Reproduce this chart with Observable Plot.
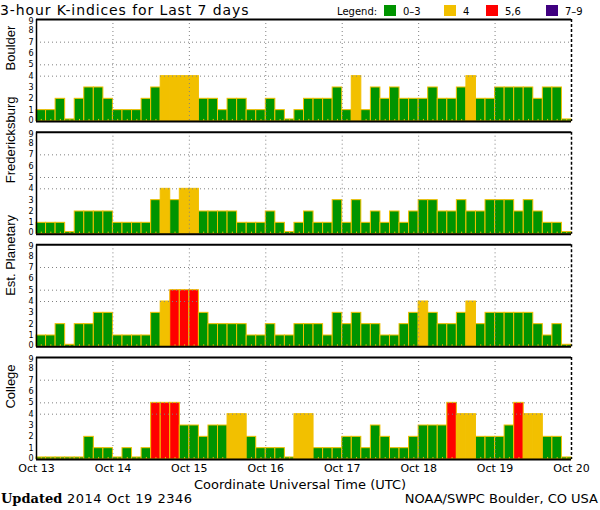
<!DOCTYPE html>
<html>
<head>
<meta charset="utf-8">
<script src="https://cdn.jsdelivr.net/npm/d3@7"></script>
<script src="https://cdn.jsdelivr.net/npm/@observablehq/plot@0.6"></script>
<style>
  html, body { margin: 0; padding: 0; background: #fff; }
  body { width: 600px; height: 510px; position: relative; overflow: hidden; font-family: "DejaVu Sans", sans-serif; color: #000; }
  .abs { position: absolute; white-space: nowrap; line-height: 1; }
  .sw { position: absolute; width: 12px; height: 11px; top: 5px; }
  #chart svg { display: block; overflow: visible; }
</style>
</head>
<body>
<div class="abs" id="title" style="left:0; top:3px; font-size:14px; letter-spacing:0.9px;">3-hour K-indices for Last 7 days</div>
<div id="legend"></div>
<div class="abs" id="chart" style="left:0; top:18px;"></div>
<div class="abs" id="xlabel" style="left:0; width:600px; text-align:center; top:478px; font-size:13px;">Coordinate Universal Time (UTC)</div>
<div class="abs" style="left:1px; top:492px; font-size:13px;"><span style="font-family:'DejaVu Serif', serif; font-weight:bold;">Updated</span><span style="letter-spacing:0.5px;"> 2014 Oct 19 2346</span></div>
<div class="abs" style="right:2px; top:492px; font-size:13px;">NOAA/SWPC Boulder, CO USA</div>
<script>
// ---- data ----
const stations = ["Boulder", "Fredericksburg", "Est. Planetary", "College"];
const dayLabels = ["Oct 13", "Oct 14", "Oct 15", "Oct 16", "Oct 17", "Oct 18", "Oct 19", "Oct 20"];
const yTicks = [0, 1, 2, 3, 4, 5, 6, 7, 8, 9];
const gridLevels = [4, 5, 7];
const legendLabels = ["0\u20133", "4", "5,6", "7\u20139"];

const boulder = [1,1,2,0,2,3,3,2, 1,1,1,2,3,4,4,4, 4,2,2,1,2,2,1,1, 2,1,0,1,2,2,2,3, 1,4,1,3,2,3,2,2, 2,3,2,2,3,4,2,2, 3,3,3,3,2,3,3,0];
const fredericksburg = [1,1,1,0,2,2,2,2, 1,1,1,1,3,4,3,4, 4,2,2,2,2,1,1,1, 2,1,0,1,2,1,1,3, 1,3,1,2,1,2,1,2, 3,3,2,2,3,2,2,3, 3,3,2,3,2,1,1,0];
const estPlanetary = [1,1,2,0,2,2,3,3, 1,1,1,1,3,4,5,5, 5,3,2,2,2,2,1,1, 2,1,1,2,2,2,1,3, 2,3,2,2,1,1,2,3, 4,3,2,2,3,4,2,3, 3,3,3,3,2,1,2,0];
const college = [0,0,0,0,0,2,1,1, 0,1,0,1,5,5,5,3, 3,2,3,3,4,4,2,1, 1,1,0,4,4,1,1,1, 2,2,1,3,2,1,1,2, 3,3,3,5,4,4,2,2, 2,3,5,4,4,2,2,0];

// ---- styles / layout ----
const legendColors = ["#009400", "#f2c000", "#ff0000", "#400080"];
const legendLeft = [384, 444, 486, 546];
const barStroke = "#f2c000";
const zeroBarK = 0.18;
const tickK = 0.18;
const periodsPerDay = 8;

const series = [boulder, fredericksburg, estPlanetary, college];
function category(k) {
  if (k <= 3) return legendLabels[0];
  if (k === 4) return legendLabels[1];
  if (k <= 6) return legendLabels[2];
  return legendLabels[3];
}
const table = stations.flatMap((s, si) => series[si].map((k, i) => ({station: s, i, k, cat: category(k)})));
const nPeriods = (dayLabels.length - 1) * periodsPerDay;
const xDomain = [0, nPeriods];
const yDomain = [yTicks[0], yTicks[yTicks.length - 1]];
const xTicks = dayLabels.map((_, j) => j * periodsPerDay);
const dayBounds = xTicks.slice(1, -1);
const yTicksMid = yTicks.slice(1, -1);

// legend
const legend = document.getElementById("legend");
legend.innerHTML = `<div class="abs" style="left:337px; top:6.5px; font-size:10px;">Legend:</div>` +
  legendLabels.map((lab, j) =>
    `<div class="sw" style="left:${legendLeft[j]}px; background:${legendColors[j]};"></div>` +
    `<div class="abs" style="left:${legendLeft[j] + 19}px; top:6.5px; font-size:10px;">${lab}</div>`
  ).join("");

const dotted = {stroke: "#808080", strokeWidth: 1, strokeDasharray: "1,3"};
const yAxisStyle = {tickSize: 0, tickPadding: 3, fontSize: 8, label: null};

const plot = Plot.plot({
  width: 600,
  height: 474,
  marginTop: 1,
  marginBottom: 33,
  marginLeft: 36,
  marginRight: 29,
  style: {fontFamily: "DejaVu Sans, sans-serif", background: "transparent", color: "#000"},
  x: {domain: xDomain, axis: null},
  y: {domain: yDomain, axis: null},
  fy: {domain: stations, axis: null, paddingInner: 0.095, paddingOuter: 0, round: false},
  color: {domain: legendLabels, range: legendColors},
  marks: [
    Plot.rect(table, {
      x1: "i",
      x2: d => d.i + 1,
      y1: 0,
      y2: d => d.k === 0 ? zeroBarK : d.k,
      fy: "station",
      fill: "cat",
      stroke: barStroke,
      strokeWidth: 1
    }),
    Plot.ruleX(table, {x: d => d.i + 0.5, y1: 0, y2: tickK, fy: "station", stroke: barStroke, strokeWidth: 1}),
    Plot.ruleY(gridLevels, dotted),
    Plot.ruleX(dayBounds, dotted),
    Plot.ruleY([yDomain[0]], {stroke: "#000", strokeWidth: 2}),
    Plot.ruleY([yDomain[1]], {stroke: "#000", strokeWidth: 2}),
    Plot.ruleX([xDomain[0]], {stroke: "#000", strokeWidth: 1.5}),
    Plot.ruleX([xDomain[1]], {stroke: "#000", strokeWidth: 1.5, strokeDasharray: "3,2"}),
    Plot.axisY({...yAxisStyle, ticks: yTicksMid}),
    Plot.axisY({...yAxisStyle, ticks: [yDomain[0]], dy: -1.5}),
    Plot.axisY({...yAxisStyle, ticks: [yDomain[1]], dy: 2}),
    Plot.axisX({ticks: xTicks, tickFormat: v => dayLabels[v / periodsPerDay], tickSize: 0, tickPadding: 5, fontSize: 11, label: null}),
    Plot.text(stations, {fy: d => d, text: d => d, frameAnchor: "left", rotate: -90, dx: -26, fontSize: 13, fontFamily: "Liberation Sans, sans-serif"})
  ]
});
document.getElementById("chart").appendChild(plot);
</script>
</body>
</html>
